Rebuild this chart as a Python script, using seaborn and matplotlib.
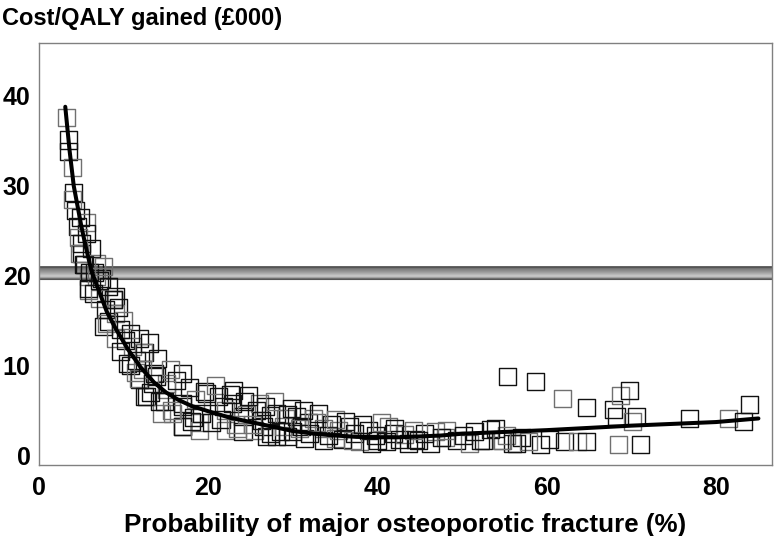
import numpy as np
import pandas as pd
import matplotlib
matplotlib.use("Agg")
import matplotlib.pyplot as plt
import seaborn as sns

# ---- data ----
prob = [3.3, 3.5, 3.5, 3.9, 4.1, 4.3, 5.6, 5.6, 4.5, 4.7, 5.0, 5.4, 5.8, 6.6, 7.4, 5.8, 9.0,
        5.0, 4.8, 5.2, 6.0, 6.8, 5.8, 6.4, 7.2, 8.8, 7.8, 9.0, 8.2, 7.6, 9.0, 10.2, 9.6, 11.1, 12.5, 11.9,
        6.8, 7.2, 8.8, 8.0, 9.6, 10.4, 12.3, 11.9, 12.7, 14.5, 13.9, 16.9, 15.1, 16.9, 17.0, 19.0, 19.8,
        21.8, 22.0, 24.1, 24.1, 26.1, 26.5, 28.1,
        11.7, 12.5, 13.7, 15.1, 17.0, 16.9, 19.0, 19.6, 21.2, 22.0, 22.9, 24.3, 24.5, 25.7, 26.3,
        25.5, 26.9, 28.1, 28.9, 29.3, 30.0,
        29.1, 30.4, 31.8, 32.4, 29.3, 31.4, 33.6, 34.6, 33.6, 35.4, 36.7, 37.3, 37.9, 38.9, 39.3,
        41.3, 41.9, 41.1, 43.2, 43.6, 45.6, 46.8, 46.2, 49.3, 50.9, 52.5, 53.9, 54.8, 56.0,
        10.8, 11.4, 13.2, 14.2, 15.8, 18.2, 20.4, 23.2, 27.4, 31.0, 35.0, 40.0, 44.5, 48.0,
        13.0, 14.0, 15.5, 16.2, 17.8, 18.5, 19.2, 18.0, 20.8, 21.5, 22.6, 23.5, 23.0, 24.8, 25.2,
        26.8, 27.4, 27.8, 28.5, 29.8, 30.8, 31.2, 32.0, 32.8, 33.0, 34.2, 35.0, 35.8, 36.2, 37.0,
        38.2, 39.8, 40.5, 42.0, 42.6, 44.2, 44.8, 47.5, 48.2, 50.2, 51.5, 55.2, 57.0, 60.3,
        4.0, 4.9, 6.2, 7.6, 8.2, 9.4, 10.0, 10.8, 11.5, 12.2, 13.4, 14.8, 15.6,
        55.3, 58.7, 61.9, 64.7, 67.9, 68.7, 69.8, 68.2, 70.1, 70.6, 76.8, 81.5, 83.2, 83.9,
        68.5, 71.1, 62.1, 63.6, 64.7, 59.3, 57.8, 56.4, 53.4, 54.6, 52.2]
cost = [37.6, 35.1, 33.8, 32.0, 29.2, 27.3, 25.9, 24.7, 25.5, 24.3, 22.5, 21.2, 19.9, 20.3, 19.7, 18.4, 17.7,
        23.6, 22.5, 21.2, 20.4, 19.9, 18.6, 18.0, 17.5, 17.3, 16.2, 15.8, 14.9, 14.3, 13.0, 12.8, 11.5, 12.1, 11.4, 13.0,
        21.4, 19.5, 17.3, 14.7, 14.0, 10.2, 11.4, 8.4, 6.5, 4.7, 8.8, 9.1, 7.3, 5.8, 3.2, 3.6, 6.9,
        5.4, 2.8, 4.3, 2.6, 5.8, 3.2, 2.1,
        8.6, 6.5, 9.1, 8.0, 5.4, 3.2, 2.8, 7.1, 6.5, 5.0, 5.8, 6.0, 4.5, 5.0, 3.9,
        2.8, 2.1, 4.7, 3.2, 4.5, 2.6,
        4.1, 4.3, 3.6, 4.1, 2.1, 1.9, 3.0, 3.4, 1.7, 2.8, 3.2, 2.4, 1.5, 2.8, 1.3,
        3.2, 2.4, 1.5, 2.3, 1.3, 2.4, 2.6, 1.3, 1.7, 1.3, 1.7, 3.0, 1.7, 1.3,
        10.0, 9.2, 7.0, 6.0, 4.6, 4.2, 3.6, 3.4, 2.4, 3.2, 1.9, 1.6, 1.8, 2.0,
        12.5, 10.8, 9.5, 8.3, 7.6, 6.2, 4.6, 3.8, 7.8, 4.0, 6.8, 3.0, 7.2, 6.6, 3.4,
        5.4, 4.4, 6.0, 2.6, 5.2, 3.0, 5.0, 2.4, 3.6, 4.6, 2.2, 4.0, 1.8, 3.8, 1.6,
        3.4, 2.2, 3.6, 3.0, 1.8, 2.8, 1.6, 2.0, 2.8, 2.2, 2.6, 2.2, 2.0, 1.8,
        28.5, 26.5, 23.0, 21.0, 18.8, 16.4, 15.0, 13.6, 10.6, 9.6, 8.0, 6.0, 5.0,
        8.8, 8.2, 6.3, 5.3, 5.1, 6.7, 7.2, 4.3, 3.8, 4.3, 4.1, 4.1, 3.8, 5.7,
        1.2, 1.2, 1.5, 1.5, 1.5, 1.2, 1.5, 1.3, 2.9, 1.7, 1.7]

fit_prob = [3.1, 3.6, 4.1, 4.6, 5.0, 5.5, 6.2, 7.0, 8.0, 9.0, 10.5, 12.0, 13.6, 15.0, 16.4, 18.0,
            20.0, 22.5, 25.0, 27.5, 30.0, 32.5, 35.0, 37.5, 40.0, 42.5, 45.0, 47.5,
            50.0, 55.0, 60.0, 65.0, 70.0, 75.0, 80.0, 85.0]
fit_cost = [38.8, 34.0, 30.0, 27.5, 25.5, 23.3, 20.5, 18.5, 16.0, 14.2, 11.8, 9.8, 8.1, 7.0, 6.2, 5.5,
            4.9, 4.2, 3.7, 3.2, 2.7, 2.4, 2.2, 2.05, 2.0, 2.0, 2.1, 2.2,
            2.4, 2.6, 2.8, 3.05, 3.3, 3.5, 3.7, 4.1]

threshold_band = [19.6, 21.0]
xticks = [0, 20, 40, 60, 80]
yticks = [0, 10, 20, 30, 40]

sns.set_theme(style="white")
plt.rcParams['font.family'] = ['Liberation Sans', 'DejaVu Sans']
plt.rcParams['text.color'] = 'black'
plt.rcParams['xtick.labelcolor'] = 'black'
plt.rcParams['ytick.labelcolor'] = 'black'
plt.rcParams['axes.labelcolor'] = 'black'

fig = plt.figure(figsize=(7.76, 5.36), dpi=100)
ax = fig.add_axes([0.0503, 0.1325, 0.9445, 0.7873])

xmax, ymin, ymax = 86.6, -1.08, 45.9

# gradient threshold band
grad = np.array([0.40, 0.44, 0.5, 0.55, 0.6, 0.66, 0.72, 0.78, 0.74, 0.45]).reshape(-1, 1)
ax.imshow(grad, extent=[0, xmax, threshold_band[0], threshold_band[1]], aspect='auto',
          cmap='gray', vmin=0, vmax=1, zorder=1, origin='upper', interpolation='bilinear')
ax.axhline(threshold_band[0], color='#555555', lw=0.8, zorder=1.1)
ax.axhline(threshold_band[1], color='#555555', lw=0.8, zorder=1.1)

df = pd.DataFrame({'prob': prob, 'cost': cost})
edge = ['#111111' if i % 3 else '#707070' for i in range(len(df))]
sns.scatterplot(data=df, x='prob', y='cost', marker='s', s=150, facecolors='none',
                edgecolor=edge, linewidth=1.0, ax=ax, zorder=2, legend=False)

fit = pd.DataFrame({'prob': fit_prob, 'cost': fit_cost})
sns.lineplot(data=fit, x='prob', y='cost', color='black', lw=2.9, ax=ax, zorder=3,
             sort=True, estimator=None)

ax.set_xlim(0, xmax)
ax.set_ylim(ymin, ymax)
ax.set_xticks(xticks)
ax.set_yticks(yticks)
ax.tick_params(axis='x', direction='in', length=9, width=0.8, color='#555555',
               labelsize=18, pad=8, labelcolor='black')
ax.tick_params(axis='y', direction='in', length=7, width=0.8, color='#555555',
               labelsize=18, pad=6, labelcolor='black')
for lab in ax.get_xticklabels() + ax.get_yticklabels():
    lab.set_fontweight('bold')
for sp in ax.spines.values():
    sp.set_color('#808080')
    sp.set_linewidth(1.0)

ax.set_xlabel('Probability of major osteoporotic fracture (%)', fontsize=18.7,
              fontweight='bold', labelpad=9, color='black')
ax.set_ylabel('')
fig.text(0.003, 0.966, 'Cost/QALY gained (£000)', fontsize=17, fontweight='bold',
         ha='left', va='center', color='black')

fig.savefig('out.png', dpi=100)
